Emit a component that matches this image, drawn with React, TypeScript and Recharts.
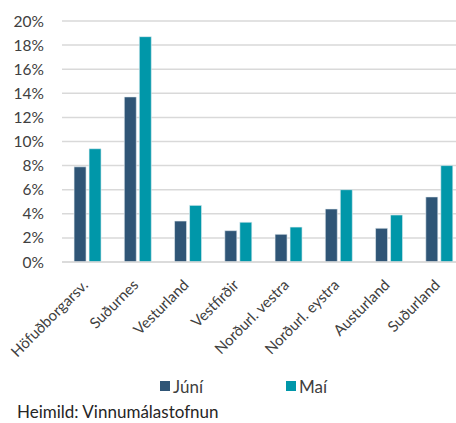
import { BarChart, Bar, XAxis, YAxis, CartesianGrid } from 'recharts';

const regions = [
  'Höfuðborgarsv.',
  'Suðurnes',
  'Vesturland',
  'Vestfirðir',
  'Norðurl. vestra',
  'Norðurl. eystra',
  'Austurland',
  'Suðurland',
];
const juni = [7.9, 13.7, 3.4, 2.6, 2.3, 4.4, 2.8, 5.4];
const mai = [9.4, 18.7, 4.7, 3.3, 2.9, 6.0, 3.9, 8.0];
const yTicks = [0, 2, 4, 6, 8, 10, 12, 14, 16, 18, 20];

const series = [
  { key: 'juni', name: 'Júní', color: '#2f5576' },
  { key: 'mai', name: 'Maí', color: '#0097a9' },
];

const chartData = regions.map((region, i) => ({
  region,
  juni: juni[i],
  mai: mai[i],
}));

const FONT = 'Lato, "Open Sans", sans-serif';

// Excel-style rotated category label, right end tucked under the bar pair
function RotatedTick(props: any) {
  const { x, y, payload } = props;
  const ax = x + 2;
  const ay = y + 16;
  return (
    <text
      x={ax}
      y={ay}
      transform={`rotate(-45, ${ax}, ${ay})`}
      textAnchor="end"
      fontSize={15}
      fill="#404040"
      fontFamily={FONT}
    >
      {payload.value}
    </text>
  );
}

export default function App() {
  return (
    <div
      style={{
        position: 'absolute',
        left: 0,
        top: 0,
        width: 456,
        height: 423,
        overflow: 'hidden',
        background: '#fff',
        fontFamily: FONT,
      }}
    >
      {/* the original plot area runs past the right edge of the image */}
      <BarChart
        width={464}
        height={370}
        data={chartData}
        margin={{ top: 21, right: 0, bottom: 0, left: 0 }}
        barCategoryGap="24%"
        barGap={3}
      >
        <CartesianGrid vertical={false} stroke="#d9d9d9" strokeWidth={1.5} />
        <XAxis
          dataKey="region"
          interval={0}
          height={108}
          tick={<RotatedTick />}
          tickLine={false}
          axisLine={{ stroke: '#d9d9d9', strokeWidth: 1.5 }}
        />
        <YAxis
          width={62}
          domain={[0, 20]}
          ticks={yTicks}
          tickFormatter={(v: number) => `${v}%`}
          tick={{ fontSize: 15.5, fill: '#404040', fontFamily: FONT }}
          tickLine={false}
          tickSize={0}
          tickMargin={18}
          axisLine={false}
          interval={0}
        />
        {series.map((s) => (
          <Bar
            key={s.key}
            dataKey={s.key}
            name={s.name}
            fill={s.color}
            stroke="#e6eef2"
            strokeWidth={0.6}
            isAnimationActive={false}
          />
        ))}
      </BarChart>
      <div
        style={{
          position: 'absolute',
          top: 376,
          left: 0,
          width: 456,
          height: 20,
          fontSize: 17,
          color: '#404040',
        }}
      >
        {series.map((s, i) => (
          <div
            key={s.key}
            style={{
              position: 'absolute',
              left: i === 0 ? 160 : 286,
              top: 0,
              display: 'flex',
              alignItems: 'center',
              height: 20,
            }}
          >
            <span
              style={{
                display: 'inline-block',
                width: 10,
                height: 10,
                background: s.color,
                marginRight: 3,
              }}
            />
            <span>{s.name}</span>
          </div>
        ))}
      </div>
      <div
        style={{
          position: 'absolute',
          top: 401,
          left: 17,
          fontSize: 17,
          color: '#262626',
        }}
      >
        Heimild: Vinnumálastofnun
      </div>
    </div>
  );
}
